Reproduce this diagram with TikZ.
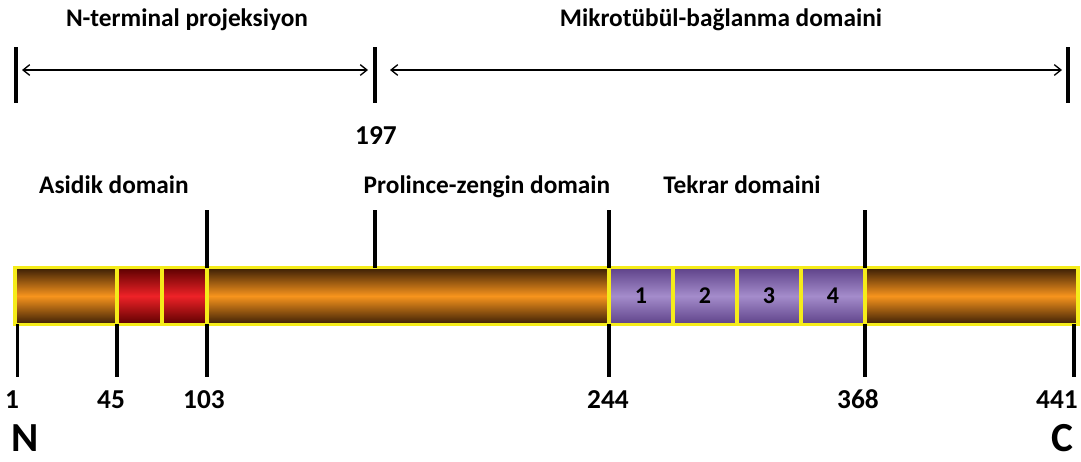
\documentclass[tikz,border=0pt]{standalone}
\usepackage{fontspec}
\setmainfont{Carlito}
\usetikzlibrary{arrows.meta,positioning}

\definecolor{barorange}{HTML}{F7941D}
\definecolor{barbrown}{HTML}{3A1E05}
\definecolor{barred}{HTML}{EE2227}
\definecolor{bardarkred}{HTML}{5C0000}
\definecolor{barpurple}{HTML}{A48CCB}
\definecolor{bardarkpurple}{HTML}{5E4289}
\definecolor{baredge}{HTML}{F5EC1A}

\begin{document}
\begin{tikzpicture}[x=0.75pt,y=-0.75pt,
	seg/.style={draw=baredge, line width=2.4pt, minimum height=42.5pt, inner sep=0pt, outer sep=0pt, anchor=west},
	orangeseg/.style={seg, top color=barbrown, bottom color=barbrown, middle color=barorange},
	redseg/.style={seg, top color=bardarkred, bottom color=bardarkred, middle color=barred},
	repseg/.style={seg, top color=bardarkpurple, bottom color=bardarkpurple, middle color=barpurple, font=\bfseries\fontsize{18}{18}\selectfont},
	tick/.style={line width=2.6pt},
	span/.style={line width=1pt, {Straight Barb[length=5pt,width=8pt]}-{Straight Barb[length=5pt,width=8pt]}},
	lbl/.style={font=\bfseries\fontsize{19}{19}\selectfont, anchor=base},
	num/.style={font=\bfseries\fontsize{20.5}{20.5}\selectfont, anchor=base},
	term/.style={font=\bfseries\fontsize{31}{31}\selectfont, anchor=base, inner sep=0pt}]
			\useasboundingbox (0,0) rectangle (1081,461);
			% regions on top
			\coordinate (nstart) at (16,47);
			\coordinate (split) at (375,47);
			\coordinate (cend) at (1068,47);
			\draw[tick] (nstart) -- ++(0,56);
			\draw[tick] (split) -- ++(0,56);
			\draw[tick] (cend) -- ++(0,56);
			\draw[span] ([shift={(6,23)}]nstart) -- ([shift={(-7,23)}]split);
			\draw[span] ([shift={(15,23)}]split) -- ([shift={(-6,23)}]cend);
			\node[lbl] (proj) at (187,26) {N-terminal projeksiyon};
			\node[lbl] (mtbd) at (721,26) {Mikrotübül-bağlanma domaini};
			\node[num] (p197) at (376,144) {197};
			% the chain
			\node[orangeseg, minimum width=76.5pt] (nseg) at (15,296) {};
			\node[redseg, minimum width=33.75pt, right=0pt of nseg] (acid1) {};
			\node[redseg, minimum width=33.75pt, right=0pt of acid1] (acid2) {};
			\node[orangeseg, minimum width=301.5pt, right=0pt of acid2] (proseg) {};
			\node[repseg, minimum width=48pt, right=0pt of proseg] (rep1) {1};
			\foreach \i [count=\j from 2] in {1,2,3}
				\node[repseg, minimum width=48pt, right=0pt of rep\i] (rep\j) {\j};
			\node[orangeseg, minimum width=159.75pt, right=0pt of rep4] (cseg) {};
			% domain labels
			\node[lbl] (acidic) at (114,193) {Asidik domain};
			\node[lbl] (proline) at (487,193) {Prolince-zengin domain};
			\node[lbl] (repeat) at (742,193) {Tekrar domaini};
			\draw[tick] (acid2.north east) -- ++(0,-58);
			\draw[tick] (proseg.north -| split) -- ++(0,-58);
			\draw[tick] (proseg.north east) -- ++(0,-58);
			\draw[tick] (rep4.north east) -- ++(0,-58);
			% residue numbers
			\draw[tick] ([xshift=2]nseg.south west) -- ++(0,53);
			\draw[tick] (acid1.south west) -- ++(0,53);
			\draw[tick] (acid2.south east) -- ++(0,53);
			\draw[tick] (proseg.south east) -- ++(0,53);
			\draw[tick] (rep4.south east) -- ++(0,53);
			\draw[tick] ([xshift=-3]cseg.south east) -- ++(0,53);
			\node[num] (r1) at (12,408) {1};
			\node[num] (r45) at (111,408) {45};
			\node[num] (r103) at (204,408) {103};
			\node[num] (r244) at (608,408) {244};
			\node[num] (r368) at (858,408) {368};
			\node[num] (r441) at (1057,408) {441};
			\node[term] (nterm) at (25,451) {N};
			\node[term] (cterm) at (1062,451) {C};
		\end{tikzpicture}
\end{document}
